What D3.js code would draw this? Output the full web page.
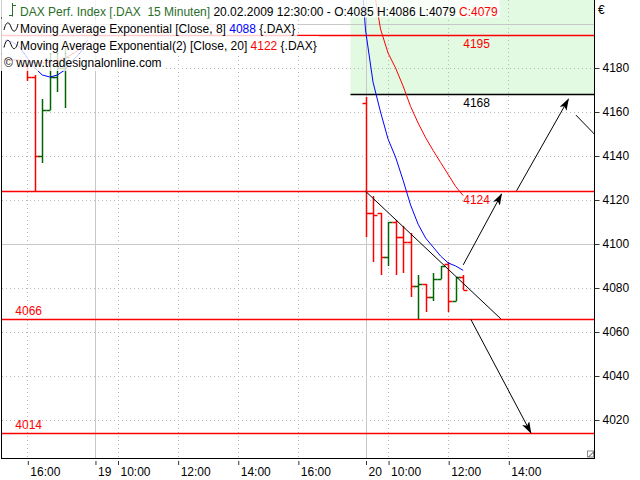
<!DOCTYPE html>
<html><head><meta charset="utf-8">
<script src="https://cdn.jsdelivr.net/npm/d3@7"></script>
<style>body{margin:0;background:#fff;} svg{display:block;font-family:Arial,"Liberation Sans",sans-serif;} text{white-space:pre;}</style>
</head><body><svg id="c" width="640" height="480"></svg>
<script>
// ---------- DATA ----------
// bar index: 0 = first 15-min bar of 20.02.2009; negative = earlier bars
const barIdx   = [-45,-44,-43,-42,-41,-40, 0,1,2,3,4,5,6,7,8,9,10,11,12,13];
const barOpen  = [4181,4176,4140,4161,4176,4180, 4164,4114,4114,4094,4110,4103,4101,4081,4082,4076,4084,4091,4074,4085];
const barHigh  = [4182,4177,4166,4187,4187,4190, 4167,4122,4114,4110,4111,4108,4105,4086,4082,4087,4090,4092,4085,4086];
const barLow   = [4174,4124,4137,4161,4169,4162, 4103,4092,4086,4090,4086,4087,4076,4066,4069,4074,4084,4069,4074,4079];
const barClose = [4176,4140,4161,4176,4180,4185, 4114,4113,4094,4110,4103,4101,4081,4082,4076,4084,4090,4074,4085,4079];

// EMA lines (null = gap, day 19 lies above the visible range)
const emaIdx = [-48,-47,-46,-45,-44,-43,-42,-41,-40,-39,-38,-37,-36, -1,0,1,2,3,4,5,6,7,8,9,10,11,12,13];
const ema8   = [4192.7,4191.8,4189.5,4184.5,4180,4176.8,4175.9,4176.8,4179.1,4183.2,4186.8,4192.7,null,
                4245,4197.3,4173.6,4160,4147.7,4139.5,4129,4117.7,4109,4102.7,4098.6,4094.5,4091.4,4090,4088];
const ema20  = [4184,4183.8,4183.6,4183.2,4182.3,4182.3,4182.7,4183.2,4184.5,4186.4,4188.6,4190.9,null,
                4245,4232,4217.9,4197.7,4186.8,4180,4171.8,4162.5,4155,4148.3,4142.5,4137,4131.6,4126.1,4122];

// x-axis ticks
const xTickIdx    = [-45,-36,-33,-25,-17,-9,0,3,11,19];
const xTickLabels = ["16:00","19","10:00","12:00","14:00","16:00","20","10:00","12:00","14:00"];
const daySeparators = [-36,0];
// y-axis ticks
const yTicks = [4020,4040,4060,4080,4100,4120,4140,4160,4180];
const ySolid = [4100,4200];

// horizontal levels
const levelValues = [4195,4168,4124,4066,4014];
const levelFrom   = [-49,-2,-49,-49,-49];
const levelLabelAt= [13,13,13,-46.6,-46.6];
const levelLabelBelow = [true,true,true,false,false];
const levelIsBlack = [false,true,false,false,false];
// green target zone
const zoneFrom = -2, zoneLow = 4168, zoneHigh = 4215;

// drawn trend line and arrows: [i1,v1,i2,v2]
const trendLine = [0,4124,18,4066];
const arrows = [[13,4090.5,18.1,4122.7],[20.1,4124.2,27,4165.8],[14,4065.8,22,4014.2]];
const plainLines = [[28,4158.6,33,4141]];

// ---------- CHART ----------
const svg = d3.select("#c");
const L=2, R=594.5, T=0, B=458;
const x = d3.scaleLinear().domain([-48.37,30.47]).range([L,R]);
const y = d3.scaleLinear().domain([4002.73,4210.91]).range([B,T]);
const px = v => Math.round(v)+0.5;
const RED="#ff0000", GREEN="#006400", BLUE="#0000ff";

svg.append("defs").html(`
 <clipPath id="clip"><rect x="${L}" y="${T}" width="${R-L}" height="${B-T}"/></clipPath>
 <marker id="ah" viewBox="0 0 12 8" refX="11" refY="4" markerWidth="12" markerHeight="8" markerUnits="userSpaceOnUse" orient="auto">
   <path d="M0,0 L12,4 L0,8 L3,4 Z" fill="#000"/></marker>`);

const g = svg.append("g").attr("clip-path","url(#clip)");

// zone
g.append("rect").attr("class","zone").attr("x",x(zoneFrom)).attr("y",y(zoneHigh))
  .attr("width",R-x(zoneFrom)).attr("height",y(zoneLow)-y(zoneHigh)).style("fill","#e2f9e2");

// grid
const dotted = yTicks.filter(v=>!ySolid.includes(v));
g.selectAll("line.hd").data(dotted).join("line").attr("class","hd").attr("x1",L).attr("x2",R)
  .attr("y1",d=>px(y(d))).attr("y2",d=>px(y(d))).style("stroke","#b8b8b8").style("stroke-dasharray","1,3");
g.selectAll("line.hs").data(ySolid).join("line").attr("class","hs").attr("x1",L).attr("x2",R)
  .attr("y1",d=>px(y(d))).attr("y2",d=>px(y(d))).style("stroke","#c8c8c8");
g.selectAll("line.vd").data(xTickIdx.filter(d=>!daySeparators.includes(d))).join("line").attr("class","vd")
  .attr("x1",d=>px(x(d))).attr("x2",d=>px(x(d))).attr("y1",T).attr("y2",B)
  .style("stroke","#b8b8b8").style("stroke-dasharray","1,3");
g.selectAll("line.vs").data(daySeparators).join("line").attr("class","vs")
  .attr("x1",d=>px(x(d))).attr("x2",d=>px(x(d))).attr("y1",T).attr("y2",B).style("stroke","#c8c8c8");

// levels
g.selectAll("line.lvl").data(levelValues).join("line").attr("class","lvl")
  .attr("x1",(d,k)=>Math.max(L,x(levelFrom[k]))).attr("x2",R)
  .attr("y1",d=>px(y(d))).attr("y2",d=>px(y(d)))
  .style("stroke",(d,k)=>levelIsBlack[k]?"#000000":RED).style("stroke-width",1.3);

// bars
const bars = barIdx.map((d,k)=>({i:d,o:barOpen[k],h:barHigh[k],l:barLow[k],c:barClose[k]}));
const bx = d => px(x(d.i));
const bg = g.selectAll("g.bar").data(bars).join("g").attr("class","bar")
  .style("stroke",d=>d.c>=d.o?GREEN:RED).style("stroke-width",1.5);
bg.append("line").attr("x1",bx).attr("x2",bx)
  .attr("y1",d=>Math.round(y(d.h))).attr("y2",d=>Math.round(y(d.l)));
bg.append("line").attr("x1",d=>bx(d)-4).attr("x2",bx)
  .attr("y1",d=>px(y(d.o))).attr("y2",d=>px(y(d.o)));
bg.append("line").attr("x1",bx).attr("x2",d=>bx(d)+4)
  .attr("y1",d=>px(y(d.c))).attr("y2",d=>px(y(d.c)));

// EMAs
const emaLine = vals => d3.line().defined((d,k)=>vals[k]!=null)
   .x((d,k)=>x(emaIdx[k])).y((d,k)=>y(vals[k]))(emaIdx);
g.append("path").attr("d",emaLine(ema20)).style("fill","none").style("stroke",RED);
g.append("path").attr("d",emaLine(ema8)).style("fill","none").style("stroke",BLUE);

// trend line + arrows
g.append("line").attr("x1",x(trendLine[0])).attr("y1",y(trendLine[1]))
  .attr("x2",x(trendLine[2])).attr("y2",y(trendLine[3])).style("stroke","#000");
plainLines.forEach(a=>g.append("line").attr("x1",x(a[0])).attr("y1",y(a[1]))
  .attr("x2",x(a[2])).attr("y2",y(a[3])).style("stroke","#000"));
arrows.forEach(a=>g.append("line").attr("x1",x(a[0])).attr("y1",y(a[1]))
  .attr("x2",x(a[2])).attr("y2",y(a[3])).style("stroke","#000").attr("marker-end","url(#ah)"));

// level labels
g.selectAll("text.lvl").data(levelValues).join("text").attr("class","lvl")
  .attr("x",(d,k)=>x(levelLabelAt[k])).attr("y",(d,k)=>levelLabelBelow[k]? y(d)+13 : y(d)-4)
  .attr("font-size",12).style("fill",(d,k)=>levelIsBlack[k]?"#000":RED).text(d=>d);

// borders
svg.append("line").attr("x1",1.5).attr("x2",1.5).attr("y1",0).attr("y2",B+0.5).style("stroke","#000");
svg.append("line").attr("x1",R).attr("x2",R).attr("y1",0).attr("y2",B+0.5).style("stroke","#000");
svg.append("line").attr("x1",1).attr("x2",R+0.5).attr("y1",B+0.5).attr("y2",B+0.5).style("stroke","#000");
// resize glyph
svg.append("rect").attr("x",R-7).attr("y",B-7).attr("width",6).attr("height",6).style("fill","#fff").style("stroke","#888");
svg.append("line").attr("x1",R-6).attr("y1",B-1).attr("x2",R-1).attr("y2",B-6).style("stroke","#444");

// y axis (right)
const ya = svg.append("g").attr("transform",`translate(${R},0)`)
  .call(d3.axisRight(y).tickValues(yTicks).tickSize(5).tickPadding(3).tickFormat(d3.format("d")));
ya.select(".domain").remove();
ya.selectAll("line").style("stroke","#333");
ya.selectAll("text").attr("font-size",12).style("fill","#000").attr("font-family","Arial, 'Liberation Sans', sans-serif");
svg.append("text").attr("x",598).attr("y",14).attr("font-size",12).text("€");

// x axis (bottom)
const xa = svg.append("g").attr("transform",`translate(0,461)`)
  .call(d3.axisBottom(x).tickValues(xTickIdx).tickSize(4).tickFormat((d,k)=>xTickLabels[k]));
xa.select(".domain").remove();
xa.selectAll(".tick line").style("stroke","#333").attr("transform","translate(0.5,0)");
xa.selectAll("text").attr("text-anchor","start").attr("x",2.5).attr("y",6)
  .attr("font-size",12).style("fill","#000").attr("font-family","Arial, 'Liberation Sans', sans-serif");

// legend
const last = bars[bars.length-1];
const lg = svg.append("g").attr("font-size",12);
const rows = [
  [["DAX Perf. Index [.DAX  15 Minuten]","#2a6e2a"],[" 20.02.2009 12:30:00 - O:"+last.o+" H:"+last.h+" L:"+last.l+" ","#000"],["C:"+last.c,RED]],
  [["Moving Average Exponential [Close, 8] ","#000"],[String(Math.round(ema8[ema8.length-1])),BLUE],[" {.DAX}","#000"]],
  [["Moving Average Exponential(2) [Close, 20] ","#000"],[String(Math.round(ema20[ema20.length-1])),RED],[" {.DAX}","#000"]],
  [["© www.tradesignalonline.com","#000"]]
];
const rowTop=[0,18.5,36,53.5], rowBase=[15.5,32.5,50,66.5], rowX=[20,20,20,4];
rows.forEach((r,k)=>{
  const rect = lg.append("rect").attr("x",0).attr("y",rowTop[k]).attr("height",17.5).style("fill","#fff").style("fill-opacity",0.8);
  const t = lg.append("text").attr("x",rowX[k]).attr("y",rowBase[k]).attr("xml:space","preserve");
  r.forEach(s=>t.append("tspan").style("fill",s[1]).text(s[0]));
  rect.attr("width",rowX[k]+t.node().getComputedTextLength()+2);
});
// legend icons
lg.append("path").attr("d","M12.5,3 V16.5 M9,15.5 H12.5 M12.5,5.5 H16").style("stroke","#2a6e2a").style("fill","none");
[27,44.5].forEach(cy=>{
  lg.append("path").attr("d",`M4,${cy+3} C6,${cy-6} 9,${cy-6} 11,${cy} S16,${cy+6} 18,${cy-3}`)
    .style("stroke","#000").style("fill","none");
});
</script></body></html>
